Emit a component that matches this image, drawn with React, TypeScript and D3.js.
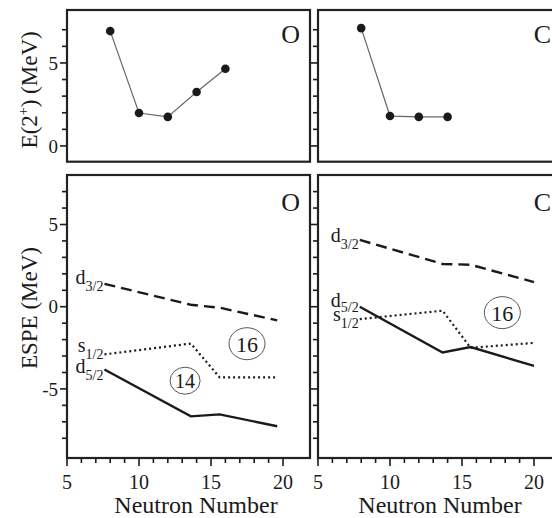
import React, { useLayoutEffect } from 'react'
import * as d3 from 'd3'

const FONT = '"Liberation Serif", "Times New Roman", Times, serif'

// E(2+) systematics
const oE2N = [8, 10, 12, 14, 16]
const oE2 = [6.92, 1.98, 1.75, 3.25, 4.65]
const cE2N = [8, 10, 12, 14]
const cE2 = [7.1, 1.8, 1.75, 1.75]

// effective single-particle energies (MeV)
const oN = [7.6, 13.6, 15.6, 19.6]
const oD32 = [1.39, 0.12, -0.06, -0.83]
const oS12 = [-2.9, -2.24, -4.3, -4.3]
const oD52 = [-3.82, -6.67, -6.55, -7.27]

const cN = [7.9, 13.65, 15.6, 20]
const cD32 = [4.06, 2.6, 2.55, 1.5]
const cS12 = [-0.75, -0.24, -2.5, -2.2]
const cD52 = [0.0, -2.78, -2.45, -3.6]

// shell gaps (circled)
const oGapLabels = ['16', '14']
const oGapN = [17.5, 13.2]
const oGapE = [-2.25, -4.5]
const cGapLabels = ['16']
const cGapN = [17.8]
const cGapE = [-0.36]

const xTickLabels = [5, 10, 15, 20]
const topTickLabels = [0, 5]
const botTickLabels = [-5, 0, 5]

const PANEL_W = 243
const panelsX = [67, 318]
const TOP = { y0: 10, y1: 161.7 }
const BOT = { y0: 175, y1: 458 }

const INK = '#1a1a1a'

type Orbital = { name: string; sub: string; values: number[]; dash: string; dy: number; subDy: number }

const App = () => {
  useLayoutEffect(() => {
    document.body.style.margin = '0'
  }, [])

  const yTop = d3.scaleLinear().domain([-0.95, 8.19]).range([TOP.y1, TOP.y0])
  const yBot = d3.scaleLinear().domain([-9.2, 8.01]).range([BOT.y1, BOT.y0])

  const panels = [
    {
      x0: panelsX[0], tag: 'O', e2N: oE2N, e2: oE2, N: oN, showY: true,
      orbitals: [
        { name: 'd', sub: '3/2', values: oD32, dash: '11,6', dy: 0, subDy: 7 },
        { name: 's', sub: '1/2', values: oS12, dash: '2,3', dy: -2, subDy: 7 },
        { name: 'd', sub: '5/2', values: oD52, dash: '', dy: 3, subDy: 7 },
      ] as Orbital[],
      gaps: oGapLabels.map((l, i) => ({ label: l, n: oGapN[i], e: oGapE[i] })),
      gapR: [[18, 16], [15, 13.5]],
      xLabel: 196,
    },
    {
      x0: panelsX[1], tag: 'C', e2N: cE2N, e2: cE2, N: cN, showY: false,
      orbitals: [
        { name: 'd', sub: '3/2', values: cD32, dash: '11,6', dy: 2, subDy: 7 },
        { name: 'd', sub: '5/2', values: cD52, dash: '', dy: 0, subDy: 5 },
        { name: 's', sub: '1/2', values: cS12, dash: '2,3', dy: 2, subDy: 7 },
      ] as Orbital[],
      gaps: cGapLabels.map((l, i) => ({ label: l, n: cGapN[i], e: cGapE[i] })),
      gapR: [[18, 16]],
      xLabel: 440,
    },
  ]

  return (
    <svg width={552} height={518} style={{ display: 'block', background: '#fff' }} fontFamily={FONT}>
      {panels.map((p, pi) => {
        const x = d3.scaleLinear().domain([5, 21.875]).range([p.x0, p.x0 + PANEL_W])
        const e2Line = d3.line<number>().x((_, i) => x(p.e2N[i])).y(d => yTop(d))
        return (
          <g key={pi}>
            {/* top panel: E(2+) */}
            <path d={e2Line(p.e2) || ''} fill="none" stroke="#666" strokeWidth={1.2} />
            {p.e2.map((v, i) => (
              <circle key={i} cx={x(p.e2N[i])} cy={yTop(v)} r={4.3} fill={INK} />
            ))}
            {d3.range(0, 8).map(t => {
              const major = topTickLabels.includes(t)
              return <line key={t} x1={p.x0 - (major ? 7 : 5)} x2={p.x0} y1={yTop(t)} y2={yTop(t)} stroke={INK} strokeWidth={1.6} />
            })}
            {p.showY && topTickLabels.map(t => (
              <text key={t} x={58} y={yTop(t)} dy="0.35em" textAnchor="end" fontSize={19} fill={INK}>{t}</text>
            ))}
            <rect x={p.x0} y={TOP.y0} width={PANEL_W} height={TOP.y1 - TOP.y0} fill="none" stroke="#222" strokeWidth={2.2} />
            <text x={p.x0 + PANEL_W - 10} y={43} textAnchor="end" fontSize={26} fill={INK}>{p.tag}</text>

            {/* bottom panel: ESPE */}
            {p.orbitals.map((o, oi) => {
              const ln = d3.line<number>().x((_, i) => x(p.N[i])).y(d => yBot(d))
              return (
                <g key={oi}>
                  <path d={ln(o.values) || ''} fill="none" stroke={INK} strokeWidth={o.dash === '2,3' ? 2.2 : 2.4}
                    strokeDasharray={o.dash || undefined} />
                  <text x={x(p.N[0]) - 1} y={yBot(o.values[0]) + o.dy} textAnchor="end" fontSize={20} fill={INK}>
                    {o.name}<tspan fontSize={14} dy={o.subDy}>{o.sub}</tspan>
                  </text>
                </g>
              )
            })}
            {p.gaps.map((g, gi) => (
              <g key={gi}>
                <ellipse cx={x(g.n)} cy={yBot(g.e)} rx={p.gapR[gi][0]} ry={p.gapR[gi][1]} fill="none" stroke="#555" strokeWidth={1} />
                <text x={x(g.n)} y={yBot(g.e)} dy="0.36em" textAnchor="middle" fontSize={gi === 1 ? 20 : 22} fill={INK}>{g.label}</text>
              </g>
            ))}
            {d3.range(-8, 8).map(t => {
              const major = botTickLabels.includes(t)
              return <line key={t} x1={p.x0 - (major ? 7 : 5)} x2={p.x0} y1={yBot(t)} y2={yBot(t)} stroke={INK} strokeWidth={1.6} />
            })}
            {p.showY && botTickLabels.map(t => (
              <text key={t} x={58} y={yBot(t)} dy="0.35em" textAnchor="end" fontSize={19} fill={INK}>{t}</text>
            ))}
            {d3.range(5, 21).map(t => {
              const major = xTickLabels.includes(t)
              return <line key={t} x1={x(t)} x2={x(t)} y1={BOT.y1} y2={BOT.y1 + (major ? 8 : 5)} stroke={INK} strokeWidth={1.6} />
            })}
            {xTickLabels.map(t => (
              <text key={t} x={x(t)} y={489} textAnchor="middle" fontSize={20} fill={INK}>{t}</text>
            ))}
            <rect x={p.x0} y={BOT.y0} width={PANEL_W} height={BOT.y1 - BOT.y0} fill="none" stroke="#222" strokeWidth={2.2} />
            <text x={p.x0 + PANEL_W - 10} y={211} textAnchor="end" fontSize={26} fill={INK}>{p.tag}</text>
            <text x={p.xLabel} y={513} textAnchor="middle" fontSize={24} fill={INK}>Neutron Number</text>
          </g>
        )
      })}

      <text transform={`translate(37,${(TOP.y0 + TOP.y1) / 2 + 4}) rotate(-90)`} textAnchor="middle" fontSize={23} fill={INK}>
        E(2<tspan fontSize={14} dy={-9}>+</tspan><tspan dy={9}>) (MeV)</tspan>
      </text>
      <text transform={`translate(37,308) rotate(-90)`} textAnchor="middle" fontSize={23} fill={INK}>ESPE (MeV)</text>
    </svg>
  )
}

export default App
